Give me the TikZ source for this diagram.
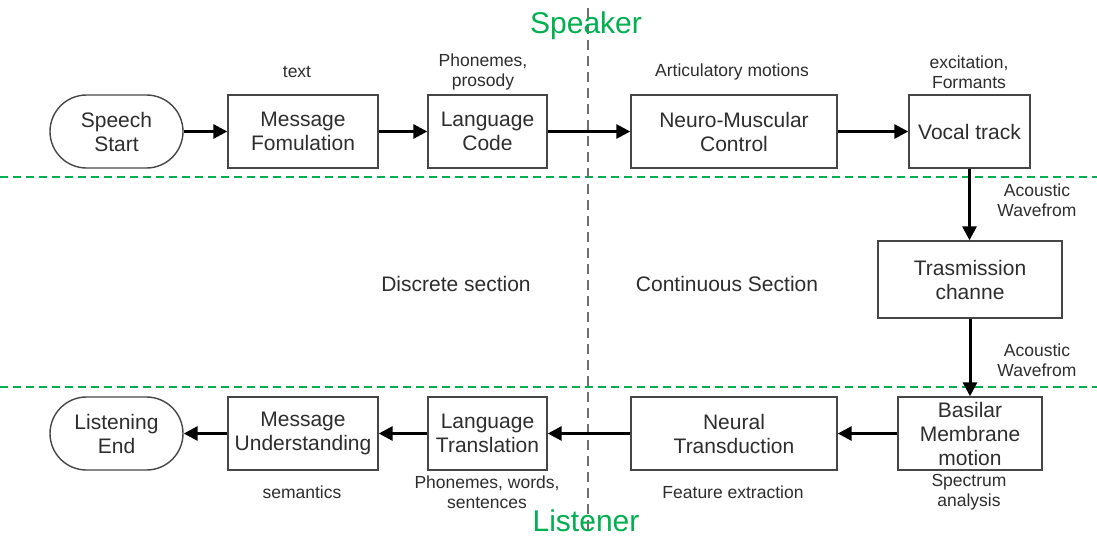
\documentclass[tikz,border=0pt]{standalone}
\usepackage{fontspec}
\setmainfont{Liberation Sans}
\usetikzlibrary{arrows.meta,shapes.misc}

\definecolor{ink}{RGB}{45,45,45}
\definecolor{edge}{RGB}{70,70,70}
\definecolor{zone}{RGB}{0,176,80}
\definecolor{divider}{RGB}{110,110,110}

\tikzset{
  block/.style={draw=edge, line width=1.4pt, rectangle, minimum height=73pt,
    text=ink, font=\fontsize{21}{24}\selectfont, align=center, inner sep=2pt},
  terminal/.style={block, rounded rectangle, minimum width=137pt},
  note/.style={text=ink, font=\fontsize{17.5}{20}\selectfont, align=center, inner sep=0pt},
  section/.style={text=ink, font=\fontsize{21}{24}\selectfont, inner sep=0pt},
  side/.style={text=zone, font=\fontsize{30}{32}\selectfont, inner sep=0pt},
  flow/.style={line width=3pt, -{Triangle[length=14pt,width=14pt]}},
  zoneline/.style={draw=zone, line width=2pt, dash pattern=on 8pt off 5pt},
  splitline/.style={draw=divider, line width=1.6pt, dash pattern=on 10pt off 6pt}
}

\begin{document}
\begin{tikzpicture}[x=1pt, y=-1pt]
\useasboundingbox (0,0) rectangle (1097,538);

% section boundaries
\draw[zoneline] (0,177) -- (1097,177);
\draw[zoneline] (0,387) -- (1097,387);
\draw[splitline] (588,8) -- (588,532);

% speaker / listener headings
\node[side] (speaker) at (586,26) {Speaker};
\node[side] (listener) at (586,521) {Listener};

% speaker chain
\node[terminal] (start) at (116.5,131.5) {Speech\\Start};
\node[block, minimum width=150pt] (msg) at (303,131.5) {Message\\Fomulation};
\node[block, minimum width=119pt] (lang) at (487.5,131.5) {Language\\Code};
\node[block, minimum width=206pt] (nmc) at (734,131.5) {Neuro-Muscular\\Control};
\node[block, minimum width=121pt] (vocal) at (969.5,131.5) {Vocal track};

% channel
\node[block, minimum width=184pt, minimum height=77pt] (chan) at (970,279.5) {Trasmission\\channe};

% listener chain
\node[block, minimum width=144pt] (basilar) at (970,433.5) {Basilar\\Membrane\\motion};
\node[block, minimum width=206pt] (neural) at (734,433.5) {Neural\\Transduction};
\node[block, minimum width=119pt] (trans) at (487.5,433.5) {Language\\Translation};
\node[block, minimum width=150pt] (under) at (303,433.5) {Message\\Understanding};
\node[terminal] (finish) at (116.5,433.5) {Listening\\End};

% signal annotations
\node[note] (n1) at (297,72) {text};
\node[note] (n2) at (483,72) {Phonemes,\\prosody};
\node[note] (n3) at (732,72) {Articulatory motions};
\node[note] (n4) at (969,72) {excitation,\\Formants};
\node[note] (n5) at (1037,200) {Acoustic\\Wavefrom};
\node[note] (n6) at (1037,360) {Acoustic\\Wavefrom};
\node[note] (n7) at (302,492) {semantics};
\node[note] (n8) at (487,492) {Phonemes, words,\\sentences};
\node[note] (n9) at (733,492) {Feature extraction};
\node[note] (n10) at (969,492) {Spectrum\\analysis};

% region names
\node[section] (disc) at (456,284) {Discrete section};
\node[section] (cont) at (727,284) {Continuous Section};

% connectors
\draw[flow] (start.east) -- (msg.west);
\draw[flow] (msg.east) -- (lang.west);
\draw[flow] (lang.east) -- (nmc.west);
\draw[flow] (nmc.east) -- (vocal.west);
\draw[flow] (vocal.south) -- (vocal.south |- chan.north);
\draw[flow] (chan.south) -- (chan.south |- basilar.north);
\draw[flow] (basilar.west) -- (neural.east);
\draw[flow] (neural.west) -- (trans.east);
\draw[flow] (trans.west) -- (under.east);
\draw[flow] (under.west) -- (finish.east);
\end{tikzpicture}
\end{document}
